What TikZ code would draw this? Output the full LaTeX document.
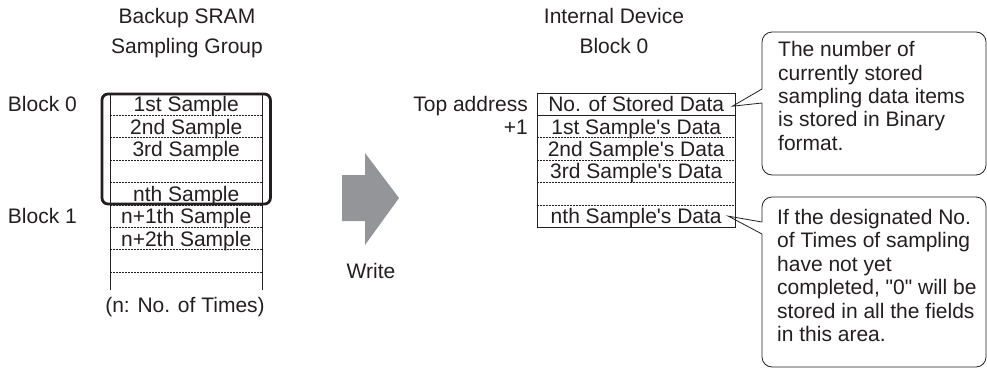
\documentclass[tikz,border=0pt]{standalone}
\usepackage{fontspec}
\setmainfont{Liberation Sans}
\usetikzlibrary{positioning,calc}
\definecolor{ink}{RGB}{35,31,32}
\definecolor{arrowgray}{RGB}{147,149,152}

\begin{document}
\begin{tikzpicture}[
  x=1pt, y=-1pt, color=ink,
  node distance=0pt and 0pt,
  every node/.style={font=\fontsize{21}{23.4}\selectfont, inner sep=0pt},
  cell/.style={minimum width=152pt, minimum height=22pt, text height=15pt, text depth=0pt},
  dcell/.style={cell, minimum width=198pt},
  side/.style={text height=15pt, text depth=0pt},
  rule/.style={line width=0.9pt},
  dotline/.style={line width=0.7pt, dash pattern=on 1.6pt off 1.4pt},
  bubble/.style={line width=0.8pt},
  bubbletext/.style={align=left, anchor=north west}
]
  \useasboundingbox (0,0) rectangle (987,370);

  % titles
  \node[anchor=base] (t1) at (187,23.5) {Backup SRAM};
  \node[anchor=base] (t2) at (187,53) {Sampling Group};
  \node[anchor=base] (t3) at (614,23.5) {Internal Device};
  \node[anchor=base] (t4) at (614,53) {Block 0};

  % backup SRAM
  \node[cell, anchor=north west] (r1) at (110,93) {1st Sample};
  \node[cell, below=of r1] (r2) {2nd Sample};
  \node[cell, below=of r2] (r3) {3rd Sample};
  \node[cell, below=of r3] (r4) {};
  \node[cell, below=of r4] (r5) {nth Sample};
  \node[cell, below=of r5] (r6) {n+1th Sample};
  \node[cell, below=of r6] (r7) {n+2th Sample};
  \node[cell, below=of r7] (r8) {};
  \draw[rule] (r1.north west) -- ++(0,197);
  \draw[rule] (r1.north east) -- ++(0,197);
  \foreach \r in {1,...,8}
    \draw[dotline] (r\r.south west) -- (r\r.south east);
  \draw[line width=2.8pt, rounded corners=6pt] ($(r1.north west)+(-8,1)$) rectangle ($(r5.south east)+(8,-1)$);
  \node[side, left=33pt of r1] (b0) {Block 0};
  \node[side, left=33pt of r6] (b1) {Block 1};
  \node[anchor=base] (nt) at (185,312) {(n: No. of Times)};

  % write arrow
  \fill[arrowgray] (342,175) -- (365,175) -- (365,153) -- (399,198) -- (365,245) -- (365,221) -- (342,221) -- cycle;
  \node[anchor=base] (wr) at (371,278) {Write};

  % internal device
  \node[dcell, anchor=north west] (d0) at (537,93) {No. of Stored Data};
  \node[dcell, below=of d0] (d1) {1st Sample\textquotesingle s Data};
  \node[dcell, below=of d1] (d2) {2nd Sample\textquotesingle s Data};
  \node[dcell, below=of d2] (d3) {3rd Sample\textquotesingle s Data};
  \node[dcell, below=of d3] (d4) {};
  \node[dcell, below=of d4] (d5) {nth Sample\textquotesingle s Data};
  \draw[rule] (d0.north west) rectangle (d5.south east);
  \draw[rule] (d0.south west) -- (d0.south east);
  \foreach \r in {1,...,4}
    \draw[dotline] (d\r.south west) -- (d\r.south east);
  \node[side, left=9pt of d0] (top) {Top address};
  \node[side, left=9pt of d1] (p1) {+1};

  % callouts
  \draw[bubble, rounded corners=10pt] (762,103) -- (762,175) -- (986,175) -- (986,32) -- (762,32) -- (762,89);
  \draw[bubble] (762,89) -- ([xshift=-3pt,yshift=-2pt]d0.east) -- (762,103);
  \node[bubbletext] (c1) at (778,41.2) {The number of\\currently stored\\sampling data items\\is stored in Binary\\format.};

  \draw[bubble, rounded corners=10pt] (762,234) -- (762,367) -- (986,367) -- (986,197) -- (762,197) -- (762,222);
  \draw[bubble] (762,222) -- ([xshift=-7pt]d5.east) -- (762,234);
  \node[bubbletext] (c2) at (777,209) {If the designated No.\\of Times of sampling\\have not yet\\completed, \textquotedbl 0\textquotedbl{} will be\\stored in all the fields\\in this area.};
\end{tikzpicture}
\end{document}
